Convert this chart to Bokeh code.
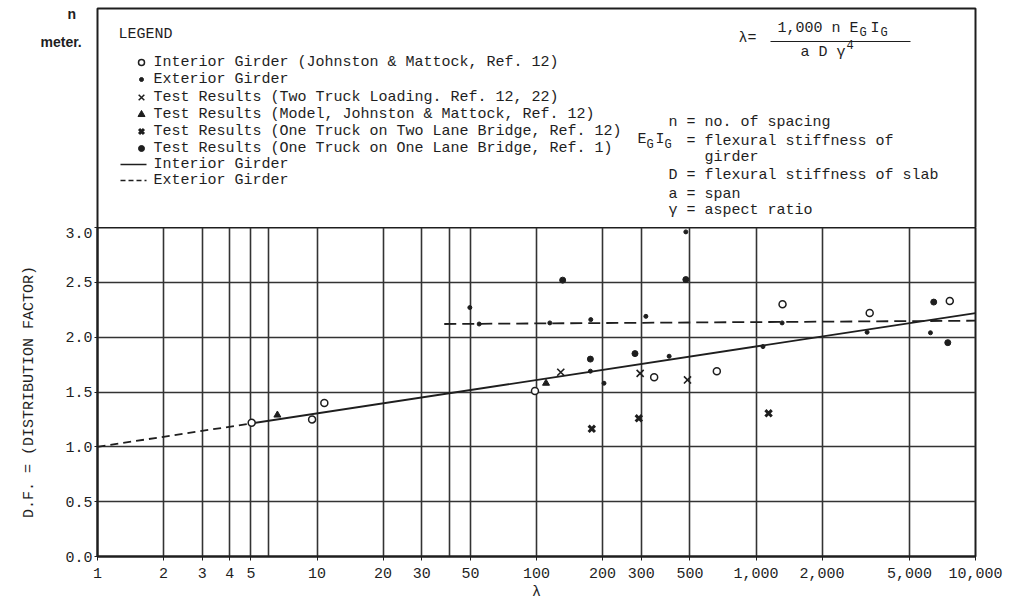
from bokeh.plotting import figure
from bokeh.models import Range1d, FixedTicker
from bokeh.embed import file_html
from bokeh.resources import INLINE
from bokeh.core.properties import value

# ---------------- data ----------------
interior_x = [5.04, 9.5, 10.8, 98.4, 343.6, 663, 1321, 3296, 7636]
interior_y = [1.22, 1.25, 1.40, 1.51, 1.635, 1.69, 2.30, 2.22, 2.33]

exterior_x = [49.7, 54.8, 115, 176.7, 203, 176, 315, 402, 479, 1076, 1315, 3207, 6235]
exterior_y = [2.27, 2.12, 2.13, 2.16, 1.58, 1.69, 2.19, 1.826, 2.96, 1.914, 2.13, 2.045, 2.04]

two_truck_x = [129, 296.6, 487.5]
two_truck_y = [1.68, 1.67, 1.61]

model_x = [6.6, 110.5]
model_y = [1.29, 1.58]

one_two_lane_x = [178.6, 292.5, 1141]
one_two_lane_y = [1.164, 1.26, 1.306]

one_one_lane_x = [131.6, 479, 176, 281, 6453, 7477]
one_one_lane_y = [2.52, 2.525, 1.80, 1.85, 2.32, 1.95]

interior_ext_x = [1, 5]
interior_ext_y = [1.0, 1.213]
interior_line_x = [5, 10000]
interior_line_y = [1.213, 2.22]
exterior_line_x = [38, 10000]
exterior_line_y = [2.12, 2.15]

x_grid_ticks = [1, 2, 3, 4, 5, 6, 10, 20, 30, 40, 50, 100, 200, 300, 500, 1000, 2000, 5000, 10000]
x_label_ticks = [1, 2, 3, 4, 5, 10, 20, 30, 50, 100, 200, 300, 500, 1000, 2000, 5000, 10000]
x_tick_labels = ["1", "2", "3", "4", "5", "10", "20", "30", "50", "100", "200", "300", "500",
                 "1,000", "2,000", "5,000", "10,000"]
y_ticks = [0.0, 0.5, 1.0, 1.5, 2.0, 2.5, 3.0]
y_tick_labels = ["0.0", "0.5", "1.0", "1.5", "2.0", "2.5", "3.0"]

legend_rows = [
    "Interior Girder (Johnston & Mattock, Ref. 12)",
    "Exterior Girder",
    "Test Results (Two Truck Loading. Ref. 12, 22)",
    "Test Results (Model, Johnston & Mattock, Ref. 12)",
    "Test Results (One Truck on Two Lane Bridge, Ref. 12)",
    "Test Results (One Truck on One Lane Bridge, Ref. 1)",
    "Interior Girder",
    "Exterior Girder",
]

INK = "#1e1e1e"
FONT = value("Liberation Mono")
FS = "15px"

W = 1008
FL, FW = 97, 878                   # plot frame left edge and width (page pixels)
FR = W - FL - FW

# ---------------- top panel (legend box), page-pixel coordinates ----------------
top = figure(width=W, height=227, x_range=Range1d(0, W), y_range=Range1d(227, 0),
             output_backend="svg", toolbar_location=None,
             x_axis_location=None, y_axis_location=None,
             min_border_left=0, min_border_right=0, min_border_top=0, min_border_bottom=0)
top.grid.visible = False
top.outline_line_color = None
top.background_fill_color = "white"
top.border_fill_color = "white"

# legend box (its bottom edge is the chart's top edge)
top.line(x=[FL, FL, FL + FW, FL + FW], y=[228, 8, 8, 228], line_width=2, color=INK)

# caption fragments of neighbouring page text (outside the box)
top.text(x=[67, 40], y=[13, 41], text=["n", "meter."], text_font=value("Liberation Sans"),
         text_font_style="bold", text_font_size="14px", text_baseline="middle",
         text_align="left", text_color=INK)

top.text(x=[118], y=[34], text=["LEGEND"], text_font=FONT, text_font_size=FS,
         text_baseline="middle", text_align="left", text_color=INK)

row_y = [62, 79, 97, 114, 131, 148, 164, 180]
top.text(x=[153] * 8, y=row_y, text=legend_rows, text_font=FONT, text_font_size=FS,
         text_baseline="middle", text_align="left", text_color=INK)

top.scatter([141], [row_y[0]], marker="circle", size=6, fill_color="white", line_color=INK, line_width=1.5)
top.scatter([141], [row_y[1]], marker="circle", size=4, color=INK)
top.scatter([141], [row_y[2]], marker="x", size=8, line_color=INK, line_width=1.5)
top.scatter([141], [row_y[3]], marker="triangle", size=7, color=INK)
top.scatter([141], [row_y[4]], marker="x", size=7, line_color=INK, line_width=3)
top.scatter([141], [row_y[5]], marker="circle", size=6, color=INK)
top.line([120, 146], [row_y[6], row_y[6]], line_width=1.5, color=INK)
top.line([120, 146], [row_y[7], row_y[7]], line_width=1.5, color=INK, line_dash="5 3")

# formula
top.text(x=[738], y=[38], text=["λ="], text_font=FONT, text_font_size=FS,
         text_baseline="middle", text_align="left", text_color=INK)
top.text(x=[777, 870], y=[28, 28], text=["1,000 n E", "I"], text_font=FONT, text_font_size=FS,
         text_baseline="middle", text_align="left", text_color=INK)
top.text(x=[859, 880], y=[32, 32], text=["G", "G"], text_font=FONT, text_font_size="12px",
         text_baseline="middle", text_align="left", text_color=INK)
top.line([770, 910], [41, 41], line_width=1.2, color=INK)
top.text(x=[800], y=[52], text=["a D γ"], text_font=FONT, text_font_size=FS,
         text_baseline="middle", text_align="left", text_color=INK)
top.text(x=[846], y=[44], text=["4"], text_font=FONT, text_font_size="12px",
         text_baseline="middle", text_align="left", text_color=INK)

# definitions
top.text(x=[668, 686, 704, 668, 668, 668],
         y=[122, 141, 157, 175, 194, 210],
         text=["n = no. of spacing", "= flexural stiffness of", "girder",
               "D = flexural stiffness of slab", "a = span", "γ = aspect ratio"],
         text_font=FONT, text_font_size=FS, text_baseline="middle", text_align="left", text_color=INK)
top.text(x=[637, 655], y=[139, 139], text=["E", "I"], text_font=FONT, text_font_size=FS,
         text_baseline="middle", text_align="left", text_color=INK)
top.text(x=[646, 664], y=[144, 144], text=["G", "G"], text_font=FONT, text_font_size="12px",
         text_baseline="middle", text_align="left", text_color=INK)

# ---------------- main chart ----------------
p = figure(frame_width=FW, frame_height=329, x_axis_type="log",
           x_range=Range1d(1, 10000), y_range=Range1d(0, 3.0),
           output_backend="svg", toolbar_location=None,
           min_border_left=FL, min_border_right=FR, min_border_top=0, min_border_bottom=42)
p.background_fill_color = "white"
p.border_fill_color = "white"
p.outline_line_color = INK
p.outline_line_width = 2

p.xaxis.ticker = FixedTicker(ticks=x_label_ticks)
p.xgrid.ticker = FixedTicker(ticks=x_grid_ticks)
p.xaxis.major_label_overrides = {t: s for t, s in zip(x_label_ticks, x_tick_labels)}
p.yaxis.ticker = FixedTicker(ticks=y_ticks)
p.ygrid.ticker = FixedTicker(ticks=y_ticks)
p.yaxis.major_label_overrides = {t: s for t, s in zip(y_ticks, y_tick_labels)}

for g in (p.xgrid, p.ygrid):
    g.grid_line_color = "#333333"
    g.grid_line_width = 1.6
    g.grid_line_alpha = 1.0

for ax in (p.xaxis, p.yaxis):
    ax.axis_line_color = INK
    ax.axis_line_width = 2
    ax.major_tick_line_color = INK
    ax.major_tick_in = 0
    ax.minor_tick_line_color = None
    ax.major_label_text_font = "Liberation Mono"
    ax.major_label_text_font_size = "15px"
    ax.major_label_text_color = INK
    ax.axis_label_text_font = "Liberation Mono"
    ax.axis_label_text_font_size = "15px"
    ax.axis_label_text_font_style = "normal"
    ax.axis_label_text_color = INK

p.xaxis.major_tick_out = 4
p.xaxis.major_label_standoff = 7
p.xaxis.axis_label = "λ"
p.xaxis.axis_label_standoff = 3
p.yaxis.major_tick_out = 3
p.yaxis.major_label_standoff = 2
p.yaxis.axis_label = "D.F. = (DISTRIBUTION FACTOR)"
p.yaxis.axis_label_standoff = 24

# lines
p.line(interior_ext_x, interior_ext_y, line_width=1.8, color=INK, line_dash="8 5")
p.line(interior_line_x, interior_line_y, line_width=1.8, color=INK)
p.line(exterior_line_x, exterior_line_y, line_width=1.8, color=INK, line_dash="12 6")

# points
p.scatter(interior_x, interior_y, marker="circle", size=7, fill_color="white",
          line_color=INK, line_width=1.5)
p.scatter(exterior_x, exterior_y, marker="circle", size=4, color=INK)
p.scatter(two_truck_x, two_truck_y, marker="x", size=10, line_color=INK, line_width=1.6)
p.scatter(model_x, model_y, marker="triangle", size=7, color=INK)
p.scatter(one_two_lane_x, one_two_lane_y, marker="x", size=9, line_color=INK, line_width=3)
p.scatter(one_one_lane_x, one_one_lane_y, marker="circle", size=6, color=INK)

open("out.html", "w").write(file_html([top, p], INLINE))
